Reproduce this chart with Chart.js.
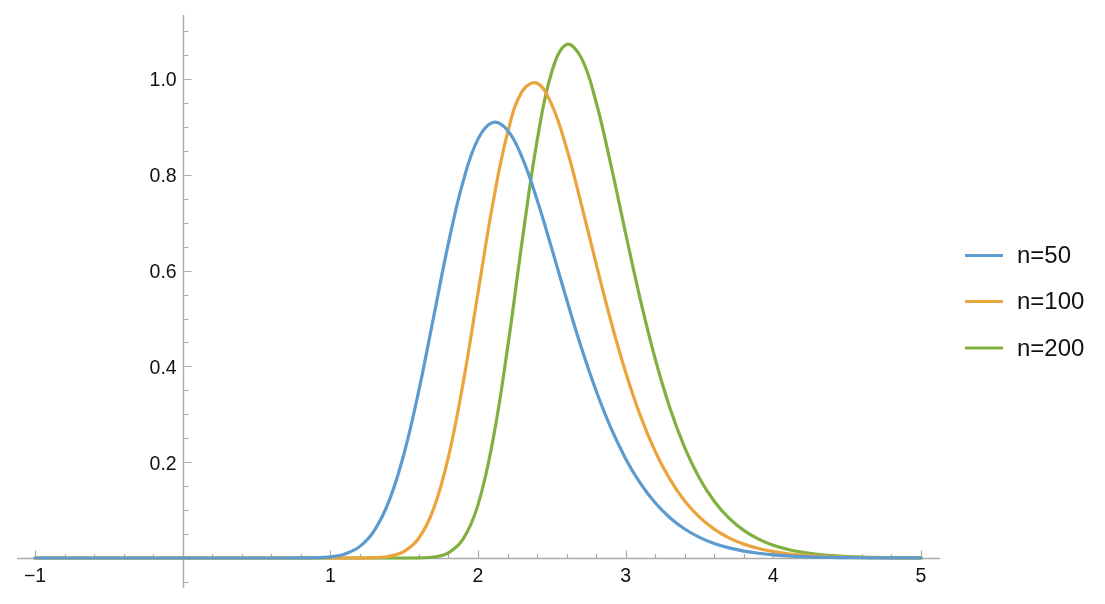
<!DOCTYPE html>
<html>
<head>
<meta charset="utf-8">
<script src="https://cdn.jsdelivr.net/npm/chart.js@4/dist/chart.umd.min.js"></script>
<style>
  html, body { margin: 0; padding: 0; background: #fff; }
  #wrap { width: 1105px; height: 604px; position: relative; }
</style>
</head>
<body>
<div id="wrap"><canvas id="c" width="1105" height="604"></canvas></div>
<script>
// ---- data ----
const xValues = [-1, -0.5, 0, 0.5, 0.8, 0.9, 1.0, 1.1, 1.2, 1.3, 1.4, 1.5, 1.6, 1.7, 1.8, 1.9, 2.0, 2.1, 2.2, 2.3, 2.4, 2.5, 2.6, 2.7, 2.8, 2.9, 3.0, 3.1, 3.2, 3.3, 3.4, 3.5, 3.6, 3.7, 3.8, 3.9, 4.0, 4.1, 4.2, 4.3, 4.4, 4.5, 4.6, 4.7, 4.8, 4.9, 5.0];
const seriesLabels = ["n=50", "n=100", "n=200"];
const n50 = [0, 0, 0, 0, 0.0001, 0.0006, 0.0025, 0.0086, 0.0243, 0.0584, 0.1208, 0.2187, 0.3504, 0.5037, 0.6574, 0.7868, 0.8745, 0.9093, 0.8931, 0.8353, 0.7480, 0.6459, 0.5401, 0.4393, 0.3491, 0.2716, 0.2074, 0.1558, 0.1153, 0.0841, 0.0606, 0.0432, 0.0304, 0.0211, 0.0145, 0.0099, 0.0067, 0.0045, 0.0029, 0.0019, 0.0012, 0.0008, 0.0005, 0.0003, 0.0002, 0.0001, 0.0001];
const n100 = [0, 0, 0, 0, 0, 0, 0, 0, 0.0001, 0.0007, 0.0036, 0.0138, 0.0418, 0.1032, 0.2110, 0.3666, 0.5534, 0.7389, 0.8871, 0.9746, 0.9912, 0.9461, 0.8553, 0.7384, 0.6144, 0.4947, 0.3877, 0.2968, 0.2227, 0.1643, 0.1192, 0.0853, 0.0602, 0.0420, 0.0290, 0.0198, 0.0134, 0.0089, 0.0059, 0.0038, 0.0025, 0.0016, 0.0010, 0.0006, 0.0004, 0.0002, 0.0001];
const n200 = [0, 0, 0, 0, 0, 0, 0, 0, 0, 0, 0, 0, 0.0003, 0.0022, 0.0109, 0.0398, 0.1109, 0.2437, 0.4377, 0.6633, 0.8706, 1.0150, 1.0720, 1.0441, 0.9514, 0.8210, 0.6775, 0.5389, 0.4159, 0.3130, 0.2304, 0.1667, 0.1186, 0.0832, 0.0576, 0.0394, 0.0266, 0.0179, 0.0118, 0.0077, 0.0050, 0.0032, 0.0020, 0.0013, 0.0008, 0.0005, 0.0003];
const xTickLabels = [-1, 1, 2, 3, 4, 5];
const yTickLabels = [0.2, 0.4, 0.6, 0.8, 1.0];

const colors = ["#5B9BD0", "#EBA43C", "#80B040"];
const FONT = '"Liberation Sans", Arial, Helvetica, sans-serif';

function pts(ys) { return xValues.map((x, i) => ({ x: x, y: ys[i] })); }

const axesPlugin = {
  id: 'mmaAxes',
  beforeDatasetsDraw(chart) {
    const ctx = chart.ctx, xs = chart.scales.x, ys = chart.scales.y, ca = chart.chartArea;
    const x0 = Math.round(xs.getPixelForValue(0)) + 0.5;
    const y0 = Math.round(ys.getPixelForValue(0)) + 0.5;
    ctx.save();
    ctx.strokeStyle = '#ABABAB';
    ctx.lineWidth = 1.4;
    ctx.beginPath();
    ctx.moveTo(ca.left, y0); ctx.lineTo(ca.right, y0);
    ctx.moveTo(x0, ca.top); ctx.lineTo(x0, ca.bottom);
    ctx.stroke();
    ctx.lineWidth = 1.2;
    ctx.beginPath();
    for (let k = -5; k <= 25; k++) {
      if (k === 0) continue;
      const px = Math.round(xs.getPixelForValue(k / 5)) + 0.5;
      const len = (k % 5 === 0) ? 8 : 4.5;
      ctx.moveTo(px, y0); ctx.lineTo(px, y0 - len);
    }
    for (let k = -1; k <= 22; k++) {
      if (k === 0) continue;
      const py = Math.round(ys.getPixelForValue(k * 0.05)) + 0.5;
      const len = (k % 4 === 0) ? 8 : 5;
      ctx.moveTo(x0, py); ctx.lineTo(x0 + len, py);
    }
    ctx.stroke();
    ctx.restore();
  },
  afterDraw(chart) {
    const ctx = chart.ctx, xs = chart.scales.x, ys = chart.scales.y;
    const x0 = xs.getPixelForValue(0), y0 = ys.getPixelForValue(0);
    ctx.save();
    ctx.fillStyle = '#111';
    ctx.font = '19.5px ' + FONT;
    ctx.textAlign = 'center';
    ctx.textBaseline = 'middle';
    xTickLabels.forEach(v => {
      const t = v < 0 ? '\u2212' + Math.abs(v) : String(v);
      ctx.fillText(t, xs.getPixelForValue(v), y0 + 18.5);
    });
    ctx.textAlign = 'right';
    yTickLabels.forEach(v => {
      ctx.fillText(v.toFixed(1), x0 - 6, ys.getPixelForValue(v) + 2);
    });
    ctx.font = '24px ' + FONT;
    ctx.textAlign = 'left';
    const rows = [255.5, 301.5, 348];
    seriesLabels.forEach((lab, i) => {
      ctx.strokeStyle = colors[i];
      ctx.lineWidth = 3.2;
      ctx.beginPath();
      ctx.moveTo(965, rows[i]); ctx.lineTo(1003, rows[i]);
      ctx.stroke();
      ctx.fillStyle = '#111';
      ctx.fillText(lab, 1017, rows[i] + 1);
    });
    ctx.restore();
  }
};

new Chart(document.getElementById('c'), {
  type: 'line',
  data: {
    datasets: [
      { label: seriesLabels[0], data: pts(n50), borderColor: colors[0] },
      { label: seriesLabels[1], data: pts(n100), borderColor: colors[1] },
      { label: seriesLabels[2], data: pts(n200), borderColor: colors[2] }
    ].map(d => Object.assign(d, {
      borderWidth: 3.2, pointRadius: 0, fill: false,
      tension: 0.4, borderJoinStyle: 'round', borderCapStyle: 'round'
    }))
  },
  options: {
    responsive: false,
    animation: false,
    layout: { padding: { left: 17, right: 165, top: 15, bottom: 16 } },
    plugins: { legend: { display: false }, tooltip: { enabled: false } },
    scales: {
      x: { type: 'linear', min: -1.122, max: 5.129, display: false },
      y: { type: 'linear', min: -0.0626, max: 1.1336, display: false }
    }
  },
  plugins: [axesPlugin]
});
</script>
</body>
</html>
